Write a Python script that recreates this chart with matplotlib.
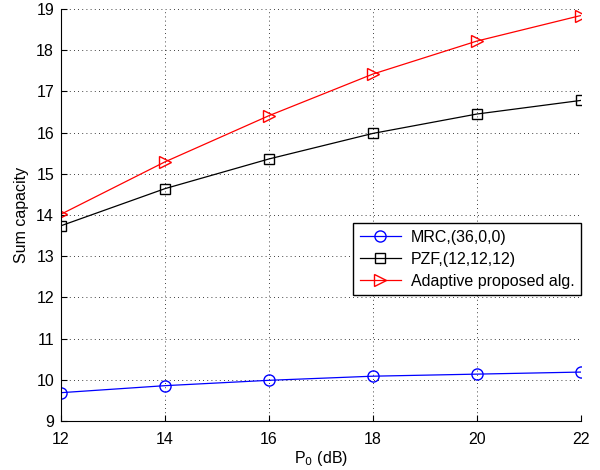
import matplotlib
matplotlib.use("Agg")
import matplotlib.pyplot as plt

plt.rcParams['font.family'] = ['Liberation Sans', 'DejaVu Sans']

# Data
p0_db = [12, 14, 16, 18, 20, 22]
mrc = [9.69, 9.86, 9.99, 10.09, 10.14, 10.19]
pzf = [13.74, 14.64, 15.36, 15.98, 16.45, 16.78]
adaptive = [14.02, 15.29, 16.41, 17.42, 18.22, 18.84]

fig = plt.figure(figsize=(6, 4.7), dpi=100)
ax = fig.add_axes([0.1017, 0.104, 0.8663, 0.877])

ax.plot(p0_db, mrc, color='b', marker='o', markersize=8, markerfacecolor='none',
        linewidth=0.9, label='MRC,(36,0,0)')
ax.plot(p0_db, pzf, color='k', marker='s', markersize=7, markerfacecolor='none',
        linewidth=0.9, label='PZF,(12,12,12)')
ax.plot(p0_db, adaptive, color='r', marker='>', markersize=9, markerfacecolor='none',
        linewidth=0.9, label='Adaptive proposed alg.')

ax.set_xlim(12, 22)
ax.set_ylim(9, 19)
ax.set_xticks(range(12, 23, 2))
ax.set_yticks(range(9, 20))
ax.grid(True, color='k', linestyle=(0, (1, 4)), linewidth=0.6)
ax.spines['top'].set_visible(False)
ax.spines['right'].set_visible(False)
ax.tick_params(direction='in', labelsize=11.5, length=4)
ax.tick_params(axis='x', pad=8)
ax.tick_params(axis='y', pad=5)
ax.set_xlabel('P$_0$ (dB)', fontsize=11.5, labelpad=1)
ax.set_ylabel('Sum capacity', fontsize=11.5, labelpad=5)

leg = ax.legend(loc='upper right', bbox_to_anchor=(1.0, 0.48), borderaxespad=0,
                fontsize=11.5, fancybox=False, framealpha=1, edgecolor='k',
                handlelength=2.6, handletextpad=0.6, borderpad=0.4, labelspacing=0.45)
leg.get_frame().set_linewidth(1.0)

fig.savefig('out.png', dpi=100)
